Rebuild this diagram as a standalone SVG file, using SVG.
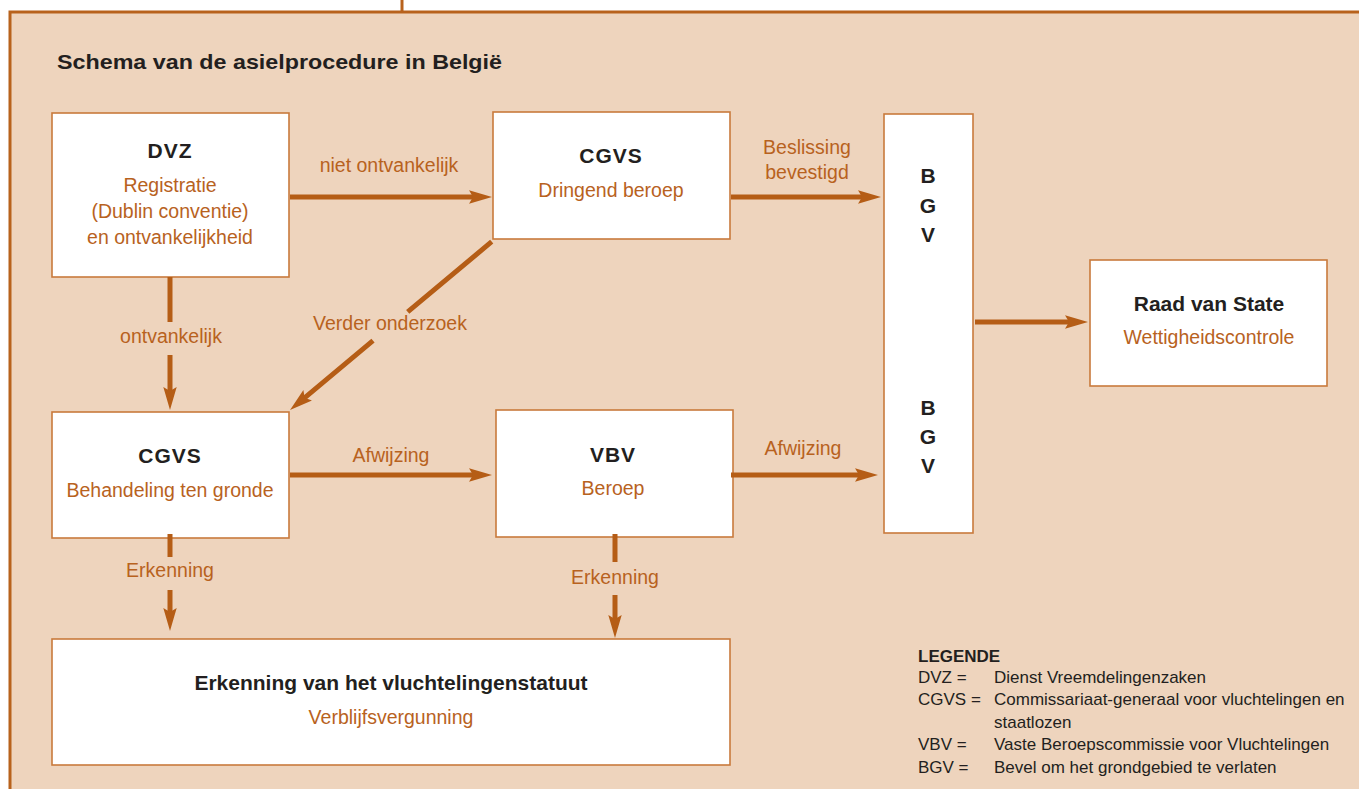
<svg xmlns="http://www.w3.org/2000/svg" width="1359" height="789" viewBox="0 0 1359 789">
<style>
.box{fill:#fff;stroke:#C97A3C;stroke-width:1.6}
.t{font-family:"Liberation Sans",Arial,sans-serif;text-anchor:middle}
.b{font-weight:bold;fill:#231F20;font-size:21px}
.o{fill:#B8621E;font-size:19.5px}
.conn{fill:none;stroke:#B55D16;stroke-width:5}
.lg{font-family:"Liberation Sans",Arial,sans-serif;font-size:17px;fill:#231F20}
</style>
<defs>
<marker id="ah" markerUnits="userSpaceOnUse" markerWidth="26" markerHeight="16" refX="13" refY="7" orient="auto">
<path d="M0,0.3 L23,7 L0,13.7 L4,7 Z" fill="#B55D16"/>
</marker>
</defs>
<rect width="1359" height="789" fill="#fff"/>
<rect x="10" y="12" width="1380" height="800" fill="#EED4BD" stroke="#B8621C" stroke-width="3"/>
<line x1="402" y1="0" x2="402" y2="12" stroke="#B8621C" stroke-width="3"/>
<text x="57" y="69" font-family="Liberation Sans,Arial,sans-serif" font-weight="bold" font-size="21" fill="#231F20" textLength="445" lengthAdjust="spacingAndGlyphs">Schema van de asielprocedure in België</text>

<g id="dvz">
<rect class="box" x="52" y="113" width="237" height="164"/>
<text class="t b" x="170" y="158" letter-spacing="1">DVZ</text>
<text class="t o" x="170" y="192">Registratie</text>
<text class="t o" x="170" y="218">(Dublin conventie)</text>
<text class="t o" x="170" y="244">en ontvankelijkheid</text>
</g>
<g id="cgvs-top">
<rect class="box" x="493" y="112" width="237" height="127"/>
<text class="t b" x="611" y="163" letter-spacing="1">CGVS</text>
<text class="t o" x="611" y="197">Dringend beroep</text>
</g>
<g id="bgv">
<rect class="box" x="884" y="114" width="89" height="419"/>
<text class="t b" x="928" y="183">B</text>
<text class="t b" x="928" y="213">G</text>
<text class="t b" x="928" y="242">V</text>
<text class="t b" x="928" y="415">B</text>
<text class="t b" x="928" y="444">G</text>
<text class="t b" x="928" y="473">V</text>
</g>
<g id="raad">
<rect class="box" x="1090" y="260" width="237" height="126"/>
<text class="t b" x="1209" y="311">Raad van State</text>
<text class="t o" x="1209" y="344">Wettigheidscontrole</text>
</g>
<g id="cgvs-bottom">
<rect class="box" x="52" y="412" width="237" height="126"/>
<text class="t b" x="170" y="463" letter-spacing="1">CGVS</text>
<text class="t o" x="170" y="497">Behandeling ten gronde</text>
</g>
<g id="vbv">
<rect class="box" x="496" y="410" width="237" height="127"/>
<text class="t b" x="613" y="462" letter-spacing="1">VBV</text>
<text class="t o" x="613" y="495">Beroep</text>
</g>
<g id="erkenning">
<rect class="box" x="52" y="639" width="678" height="126"/>
<text class="t b" x="391" y="690">Erkenning van het vluchtelingenstatuut</text>
<text class="t o" x="391" y="724">Verblijfsvergunning</text>
</g>

<g id="connectors">
<path class="conn" d="M290,197 H482" marker-end="url(#ah)"/>
<path class="conn" d="M731,197 H871" marker-end="url(#ah)"/>
<path class="conn" d="M975,322 H1078" marker-end="url(#ah)"/>
<path class="conn" d="M170,277 V322 M170,355 V400" marker-end="url(#ah)"/>
<path class="conn" d="M491.7,241.7 L407.7,311.8 M373,340.7 L297.7,403.6" marker-end="url(#ah)"/>
<path class="conn" d="M290,475 H482" marker-end="url(#ah)"/>
<path class="conn" d="M731,475 H868" marker-end="url(#ah)"/>
<path class="conn" d="M170,534 V557 M170,590 V621" marker-end="url(#ah)"/>
<path class="conn" d="M615,534 V562 M615,595 V628" marker-end="url(#ah)"/>
<text class="t o" x="389" y="172">niet ontvankelijk</text>
<text class="t o" x="807" y="154">Beslissing</text>
<text class="t o" x="807" y="179">bevestigd</text>
<text class="t o" x="171" y="343">ontvankelijk</text>
<text class="t o" x="390" y="330">Verder onderzoek</text>
<text class="t o" x="391" y="462">Afwijzing</text>
<text class="t o" x="803" y="455">Afwijzing</text>
<text class="t o" x="170" y="577">Erkenning</text>
<text class="t o" x="615" y="584">Erkenning</text>
</g>

<g id="legende">
<text class="lg" x="918" y="662" font-weight="bold">LEGENDE</text>
<text class="lg" x="918" y="683">DVZ =</text>
<text class="lg" x="994" y="683">Dienst Vreemdelingenzaken</text>
<text class="lg" x="918" y="705">CGVS =</text>
<text class="lg" x="994" y="705">Commissariaat-generaal voor vluchtelingen en</text>
<text class="lg" x="994" y="728">staatlozen</text>
<text class="lg" x="918" y="750">VBV =</text>
<text class="lg" x="994" y="750">Vaste Beroepscommissie voor Vluchtelingen</text>
<text class="lg" x="918" y="773">BGV =</text>
<text class="lg" x="994" y="773">Bevel om het grondgebied te verlaten</text>
</g>
</svg>
